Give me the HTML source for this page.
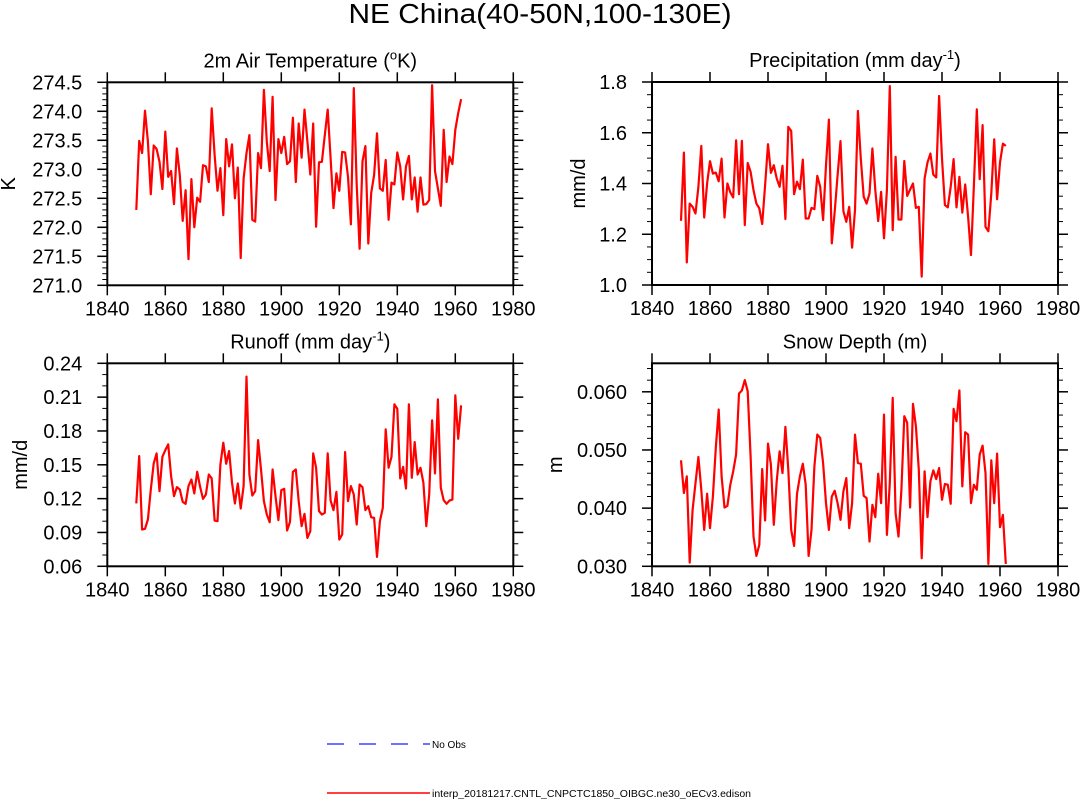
<!DOCTYPE html>
<html><head><meta charset="utf-8"><style>
html,body{margin:0;padding:0;background:#fff;}
svg text{font-family:"Liberation Sans",Helvetica,Arial,sans-serif;fill:#000;}
</style></head><body>
<svg id="c" width="1080" height="799" viewBox="0 0 1080 799" xmlns="http://www.w3.org/2000/svg">
<text x="540" y="23" font-size="28" text-anchor="middle" textLength="383" lengthAdjust="spacingAndGlyphs">NE China(40-50N,100-130E)</text>
<g id="panels"></g>
<line x1="327" y1="744" x2="430" y2="744" stroke="#4040ff" stroke-width="1.5" stroke-dasharray="17,15"/>
<text x="432" y="748" font-size="10">No Obs</text>
<line x1="327" y1="793" x2="430" y2="793" stroke="#ff0000" stroke-width="1.5"/>
<text x="432" y="797" font-size="10" textLength="319" lengthAdjust="spacingAndGlyphs">interp_20181217.CNTL_CNPCTC1850_OIBGC.ne30_oECv3.edison</text>
</svg>
<script>
const years = []; for (let y = 1850; y <= 1962; y++) years.push(y);
const xTicks = [1840,1860,1880,1900,1920,1940,1960,1980];
const tempVals = [272.30,273.49,273.28,274.01,273.48,272.57,273.41,273.35,273.13,272.66,
273.65,272.87,272.97,272.40,273.36,272.90,272.11,272.64,271.45,272.83,
272.00,272.51,272.44,273.07,273.05,272.78,274.05,273.25,272.63,273.02,
272.21,273.52,273.05,273.43,272.50,273.03,271.47,272.84,273.28,273.59,
272.13,272.10,273.28,273.02,274.37,273.48,272.97,274.25,272.47,273.52,
273.28,273.56,273.09,273.14,273.89,272.78,273.79,273.20,274.03,273.48,
272.91,273.79,272.01,273.12,273.13,273.59,274.03,273.19,272.33,272.93,
272.63,273.30,273.29,272.87,272.05,274.40,272.73,271.63,273.14,273.40,
271.72,272.59,272.90,273.62,272.67,272.63,273.16,272.13,272.77,272.74,
273.29,273.05,272.48,273.05,273.23,272.48,272.86,272.27,272.86,272.39,
272.40,272.47,274.45,272.97,272.67,272.37,273.68,272.78,273.22,273.09,
273.68,273.97,274.21];
const precVals = [1.253,1.522,1.089,1.321,1.308,1.282,1.387,1.548,1.266,1.400,
1.488,1.439,1.443,1.409,1.498,1.266,1.400,1.365,1.345,1.570,
1.358,1.568,1.236,1.481,1.446,1.374,1.321,1.302,1.240,1.393,
1.555,1.442,1.472,1.420,1.387,1.470,1.260,1.623,1.607,1.358,
1.407,1.378,1.494,1.262,1.262,1.304,1.299,1.430,1.387,1.256,
1.472,1.652,1.164,1.289,1.433,1.567,1.291,1.249,1.308,1.147,
1.295,1.686,1.498,1.348,1.321,1.361,1.538,1.374,1.252,1.367,
1.184,1.374,1.784,1.216,1.505,1.258,1.258,1.489,1.351,1.376,
1.400,1.304,1.308,1.033,1.420,1.483,1.518,1.435,1.424,1.745,
1.498,1.315,1.306,1.387,1.496,1.306,1.426,1.285,1.396,1.269,
1.118,1.393,1.692,1.417,1.630,1.229,1.212,1.361,1.574,1.338,
1.483,1.557,1.548];
const runoffVals = [.1157,.1577,.0926,.0932,.1015,.1281,.1512,.1601,.1266,.1571,
.1630,.1681,.1400,.1222,.1302,.1281,.1172,.1154,.1311,.1370,
.1246,.1438,.1305,.1198,.1237,.1414,.1379,.1006,.1000,.1503,
.1696,.1509,.1622,.1340,.1157,.1334,.1112,.1311,.2282,.1414,
.1228,.1266,.1719,.1459,.1178,.1059,.0991,.1459,.1222,.1009,
.1275,.1287,.0917,.0994,.1438,.1459,.1178,.0956,.1065,.0852,
.0911,.1601,.1474,.1089,.1059,.1074,.1601,.1183,.1098,.1260,
.0837,.0882,.1613,.1178,.1311,.1237,.0970,.1326,.1302,.1098,
.1133,.1035,.1030,.0683,.1000,.1118,.1814,.1474,.1571,.2036,
.1997,.1379,.1482,.1290,.2036,.1385,.1701,.1414,.1474,.1340,
.0956,.1237,.1894,.1423,.2080,.1296,.1186,.1154,.1183,.1192,
.2116,.1731,.2027];
const snowVals = [.04822,.04259,.04546,.03063,.03971,.04431,.04879,.04316,.03626,.04247,
.03655,.04201,.05034,.05695,.04546,.04011,.04040,.04402,.04632,.04920,
.05971,.06023,.06201,.06011,.04891,.03511,.03178,.03368,.04672,.03787,
.05109,.04747,.03713,.04460,.04977,.04603,.05397,.04661,.03626,.03351,
.04247,.04546,.04764,.04402,.03178,.03626,.04718,.05264,.05207,.04776,
.04086,.03626,.04201,.04299,.04086,.03799,.04287,.04517,.03655,.04086,
.05264,.04776,.04764,.04213,.04172,.03425,.04057,.03845,.04592,.04086,
.05609,.03540,.04431,.05897,.03914,.03511,.04316,.05580,.05466,.04011,
.05793,.05408,.04661,.03138,.04632,.03845,.04460,.04649,.04500,.04690,
.04144,.04414,.04402,.04075,.05707,.05494,.06023,.04374,.05305,.05264,
.04086,.04402,.04316,.04920,.05075,.04603,.03040,.04822,.04086,.04937,
.03672,.03885,.03040];
const tempTicks = [271.0,271.5,272.0,272.5,273.0,273.5,274.0,274.5];
const precTicks = [1.0,1.2,1.4,1.6,1.8];
const runoffTicks = [0.06,0.09,0.12,0.15,0.18,0.21,0.24];
const snowTicks = [0.030,0.040,0.050,0.060];

const NS = "http://www.w3.org/2000/svg";
const root = document.getElementById('panels');
function mk(tag, attrs, parent){const e=document.createElementNS(NS,tag);for(const k in attrs)e.setAttribute(k,attrs[k]);parent.appendChild(e);return e;}

function panel(cfg){
  const g = mk('g',{},root);
  
  
  const L=cfg.x0, R=cfg.x0+406, T=cfg.y0, B=cfg.y0+203;
  const xs = v => L + (v-1840)/140*(R-L);
  const ys = v => B - (v-cfg.ymin)/(cfg.ymax-cfg.ymin)*(B-T);
  const tt = mk('text',{x:(L+R)/2,y:T-15,'font-size':20,'text-anchor':'middle'},g);
  
  
  tt.innerHTML = cfg.title;
  for(let v=cfg.ymin; v<=cfg.ymax+1e-9; v+=cfg.minor){
    const y=ys(v); if(y<T-0.5) continue;
    mk('line',{x1:L-5,x2:L,y1:y,y2:y,stroke:'#000','stroke-width':1},g);
    mk('line',{x1:R,x2:R+5,y1:y,y2:y,stroke:'#000','stroke-width':1},g);
  }
  cfg.ticks.forEach(v=>{
    const y=ys(v);
    mk('line',{x1:L-10,x2:L,y1:y,y2:y,stroke:'#000','stroke-width':1.5},g);
    mk('line',{x1:R,x2:R+10,y1:y,y2:y,stroke:'#000','stroke-width':1.5},g);
    const t=mk('text',{x:L-25,y:y+7,'font-size':20,'text-anchor':'end'},g);
    
    
    t.textContent=v.toFixed(cfg.dec);
  });
  xTicks.forEach(v=>{
    const x=xs(v);
    mk('line',{x1:x,x2:x,y1:B,y2:B+10,stroke:'#000','stroke-width':1.5},g);
    mk('line',{x1:x,x2:x,y1:T-10,y2:T,stroke:'#000','stroke-width':1.5},g);
    const t=mk('text',{x:x,y:B+30,'font-size':20,'text-anchor':'middle'},g);
    
    
    t.textContent=v;
  });
  const yl=mk('text',{x:0,y:0,'font-size':20,'text-anchor':'middle',transform:`translate(${cfg.ylx},${(T+B)/2}) rotate(-90)`},g);
  
  
  yl.textContent=cfg.ylab;
  const pts = cfg.vals.map((v,i)=>xs(years[i]).toFixed(2)+','+ys(v).toFixed(2)).join(' ');
  const pl=mk('polyline',{points:pts,fill:'none',stroke:'#ff0000','stroke-width':2.2,'stroke-linejoin':'round'},g);
  
  
  const fr=mk('rect',{x:L,y:T,width:R-L,height:B-T,fill:'none',stroke:'#000','stroke-width':2},g);
  
  
}
panel({name:'temperature-panel',x0:107.3,y0:82.3,ymin:271,ymax:274.5,ticks:tempTicks,minor:0.1,dec:1,vals:tempVals,ylab:'K',ylx:15,
  title:'2m Air Temperature (<tspan dy="-8" font-size="13">o</tspan><tspan dy="8">K)</tspan>'});
panel({name:'precipitation-panel',x0:652,y0:82,ymin:1.0,ymax:1.8,ticks:precTicks,minor:0.05,dec:1,vals:precVals,ylab:'mm/d',ylx:585,
  title:'Precipitation (mm day<tspan dy="-8" font-size="13">-1</tspan><tspan dy="8">)</tspan>'});
panel({name:'runoff-panel',x0:107.3,y0:363.3,ymin:0.06,ymax:0.24,ticks:runoffTicks,minor:0.01,dec:2,vals:runoffVals,ylab:'mm/d',ylx:27,
  title:'Runoff (mm day<tspan dy="-8" font-size="13">-1</tspan><tspan dy="8">)</tspan>'});
panel({name:'snow-depth-panel',x0:652,y0:363.3,ymin:0.030,ymax:0.0649,ticks:snowTicks,minor:0.002,dec:3,vals:snowVals,ylab:'m',ylx:562,
  title:'Snow Depth (m)'});
</script>
</body></html>
